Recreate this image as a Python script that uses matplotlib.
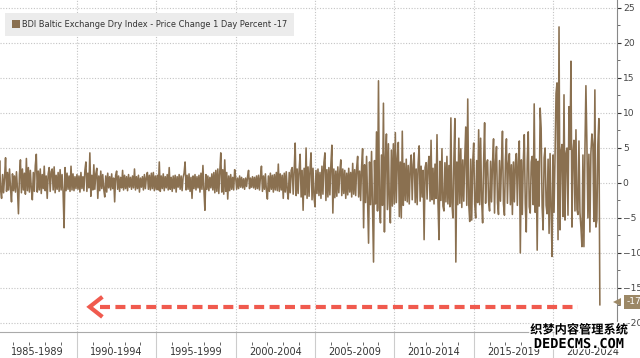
import numpy as np
import matplotlib.pyplot as plt
from matplotlib.patches import Patch
import matplotlib.patheffects as pe

# Daily % change of the BDI in each 5-year block (roughly one value per pixel column)
chg_1985_89 = [3.6, -1.5, 3.2, -1.0, -2.2, 1.2, -1.4, 0.8, 3.6, -1.2, 1.5, -1.0, 2.0, -0.8, -2.7, 1.3,
               -1.1, 1.0, -1.3, 1.6, -0.9, -4.4, 1.2, 3.3, -1.4, 2.0, -1.0, 1.4, -1.6, 3.5, -1.1, 2.2,
               -1.3, 1.8, -0.9, -2.4, 1.5, -1.2, 2.5, 4.1, -1.3, 1.7, -1.0, 2.0, -1.5, 1.2, -0.8, 2.4,
               -1.1, 1.0, -2.2, 1.3, 2.2, -1.2, 1.6, 2.0, -1.0, 2.3, -1.4, 1.1, -0.9, 1.5, -1.2, 1.9,
               -1.0, 1.2, -1.3, -6.4, 2.2, -1.1, 1.4, -0.9, 1.0, -1.2, 2.4, -1.0, 1.3, -1.1, 0.9, -0.8]
chg_1990_94 = [1.2, -0.9, 1.0, -1.3, 1.5, -0.8, 0.9, -1.1, 1.8, 3.0, -1.2, 1.4, -0.7, 4.3, -1.9, 1.1,
               -1.0, 2.6, -0.9, 1.3, 2.1, -2.2, 1.0, -1.1, 1.7, -0.8, 1.2, -0.9, -2.0, 1.0, -1.3, 1.4,
               -0.7, 0.9, -1.0, 1.3, -0.8, 0.7, -2.7, 1.1, 1.7, -0.9, 1.0, -1.2, 0.8, -0.7, 1.8, -1.0,
               1.1, -0.8, 0.9, -1.1, 1.2, -0.6, 0.8, -0.9, 1.0, -0.7, 2.0, -1.0, 0.9, -0.8, 1.1, -1.3,
               0.7, -0.6, 0.9, -1.0, 1.2, -0.8, 0.8, 1.5, -0.9, 1.1, -1.0, 1.4, -0.8, 1.5, -1.1, 1.0]
chg_1995_99 = [-0.9, 1.1, -1.0, 3.0, -1.2, 1.0, -0.8, 1.3, -1.1, 0.9, -0.7, 1.2, -1.0, 2.2, -0.9, 0.8,
               -1.2, 1.0, -0.8, 1.1, -1.3, 0.9, -0.6, 1.2, -0.9, 1.0, -1.1, 0.8, 1.4, 3.0, -1.0, 1.1,
               -0.9, 1.3, -1.2, 0.8, -2.2, 1.0, -0.8, 1.2, -1.0, 0.9, -0.7, 1.1, -1.3, 1.4, -0.9, 2.5,
               -1.0, -3.9, 1.2, -0.9, 1.0, -1.1, 0.8, -0.7, 1.3, -1.0, 1.5, -1.4, 1.8, -1.2, 2.0, -1.5,
               1.6, 4.3, -1.3, 1.9, -1.6, 3.3, -1.2, 1.5, -2.3, 1.0, -1.1, 1.2, -0.9, 0.8, -1.0, 1.9]
chg_2000_04 = [0.8, -0.9, 0.7, -0.8, 1.0, -0.6, 0.8, -0.7, 0.6, -0.9, 0.7, -0.5, 0.9, 1.8, -0.8, 0.7,
               -0.6, 0.9, -0.7, 0.8, -0.9, 1.0, -0.8, 1.1, -1.0, 0.9, 2.4, -1.2, 1.0, -0.9, 1.3, -1.1,
               -2.3, 1.0, -1.2, 1.4, -0.9, 1.1, -1.3, 1.2, -1.0, 1.5, -1.1, 2.7, -1.2, 1.3, -1.0, 1.1,
               -2.2, 1.4, -1.3, 1.6, -1.1, -2.3, 1.5, -1.4, 1.8, 2.2, -1.6, 1.7, 5.7, -1.8, 2.0, -1.5,
               1.9, 4.1, -2.0, 1.8, -3.9, 2.1, -1.7, 5.0, -2.2, 2.3, -1.9, 2.0, 4.3, -2.4, 2.1, -2.0]
chg_2005_09 = [-3.4, 1.8, -1.5, 2.0, -1.8, 1.5, -2.2, 2.4, -1.6, 2.9, 4.3, -2.5, 1.9, -2.0, 2.2, -1.7,
               2.6, 5.4, -4.3, 2.0, -2.1, 1.7, -1.9, 2.3, -1.4, 1.6, 3.3, -1.8, 2.0, -1.5, 1.8, -2.2,
               1.4, -1.7, 2.1, -1.3, 1.5, -2.0, 2.8, -1.6, 1.9, -1.8, 2.2, 3.8, -2.0, 1.7, -2.5, 2.4,
               4.9, -6.4, 2.6, -2.8, 3.8, -2.3, -8.6, 3.0, -3.1, 4.5, -3.4, -11.3, 3.2, -3.0, 7.3, -4.0,
               14.6, -3.5, -5.7, 4.0, -3.2, 11.4, -7.0, 3.5, 7.0, -3.8, 5.6, -3.0, -5.7, 4.7, -3.3, 5.6]
chg_2010_14 = [-3.0, 7.2, -2.8, 3.5, 5.8, -4.8, 3.0, -5.0, 7.4, -3.2, 2.8, -2.5, 3.4, -2.7, 2.5, -3.0,
               2.2, 4.0, -2.4, 2.6, 4.3, -2.8, 2.0, -3.1, 2.7, 5.3, -2.6, 2.4, -2.0, 1.8, -8.1, 2.2,
               2.9, -2.3, 2.5, 3.8, -2.6, 6.1, -2.4, 2.1, -3.0, 2.7, -2.2, 6.9, -2.8, -8.1, 3.1, -2.5,
               4.9, -3.3, -4.0, 2.9, -2.7, 3.8, -3.0, 2.5, -3.4, 9.3, -2.8, -5.0, 3.2, 9.2, -11.3, 3.0,
               -3.1, 6.4, -2.9, 4.9, -3.5, 3.3, -2.6, 3.6, 8.0, -3.2, 12.0, -3.0, -5.5, 3.4, -5.3, 3.0]
chg_2015_19 = [5.7, -3.0, -5.0, 3.2, -2.8, 7.6, -3.1, 6.4, -2.5, -5.7, 3.0, 8.6, -2.9, 2.8, 3.3, -2.6,
               -4.0, 3.1, -2.7, 2.9, 6.3, -4.3, 3.0, 5.2, -2.8, -4.5, 3.2, -2.6, 2.7, 7.4, -3.0, -4.6,
               3.3, 6.3, -2.9, 2.8, 4.2, -3.1, 2.6, -4.5, 3.0, -2.7, 2.9, 4.2, -3.2, 3.1, 6.0, -10.0,
               3.3, -4.5, 2.9, 6.9, -3.0, -7.0, 3.2, 7.3, -3.4, -4.3, 3.0, 3.8, -3.1, 11.3, -4.2, 3.4,
               -9.6, 3.1, -3.3, 10.7, 7.8, -3.5, -6.7, 3.6, 5.0, -3.2, -4.4, 3.4, -7.2, 4.2, -3.6, -10.5]
chg_2020_24 = [4.0, -4.2, 3.8, 12.8, 14.3, -8.1, 22.3, -6.7, 4.5, 5.5, -4.8, 12.6, -5.3, 4.2, 5.0, -4.6,
               10.9, 4.8, 17.4, -6.3, 4.4, 6.1, -4.0, 7.6, -3.8, -4.5, 6.0, -4.2, -6.3, -9.1, 4.0, -9.1,
               4.5, 13.9, 5.5, -5.0, 4.1, -7.0, 4.3, 7.0, 5.5, -5.5, 13.3, -6.3, -5.3, 5.5, 9.2, -17.4]

blocks = [chg_1985_89, chg_1990_94, chg_1995_99, chg_2000_04,
          chg_2005_09, chg_2010_14, chg_2015_19, chg_2020_24]
block_start = [1985, 1990, 1995, 2000, 2005, 2010, 2015, 2020]
block_labels = ["1985-1989", "1990-1994", "1995-1999", "2000-2004",
                "2005-2009", "2010-2014", "2015-2019", "2020-2024"]
last_date = 2022.95
last_value = -17

# time axis for each block
xs = []
for start, vals in zip(block_start, blocks):
    if start == block_start[-1]:
        xs.append(np.linspace(start, last_date, len(vals)))
    else:
        xs.append(np.linspace(start, start + 5, len(vals), endpoint=False))
x = np.concatenate(xs)
y = np.concatenate([np.array(b, dtype=float) for b in blocks])

line_col = "#8a7050"
grid_col = "#c4c4c4"
narrow = ["Liberation Sans Narrow", "DejaVu Sans"]

fig = plt.figure(figsize=(6.4, 3.58), dpi=100)
ax = fig.add_axes([0.0, 1 - 332 / 358, 617 / 640, 332 / 358])

ax.plot(x, y, color=line_col, lw=1.15, zorder=3)

ax.set_xlim(1985.15, 2024.03)
ax.set_ylim(-21.29, 26.14)

# grid
for yy in range(-20, 30, 5):
    ax.axhline(yy, color=grid_col, lw=0.8, ls=(0, (1, 1.5)), zorder=1)
for xx in block_start[1:]:
    ax.axvline(xx, color=grid_col, lw=0.8, ls=(0, (1, 1.5)), zorder=1)

# right y axis
ax.yaxis.tick_right()
ax.set_yticks(range(-20, 30, 5))
ax.set_yticks(np.arange(-20, 26, 2.5), minor=True)
ax.tick_params(axis="y", which="major", length=3, width=0.8, color="#333333",
               pad=1.2, labelsize=6.6, labelcolor="#444444")
ax.tick_params(axis="y", which="minor", length=2, width=0.6, color="#555555")
for lab in ax.get_yticklabels():
    lab.set_family(narrow)
for s in ["left", "top"]:
    ax.spines[s].set_visible(False)
ax.spines["right"].set_color("#888888")
ax.spines["right"].set_linewidth(0.8)
ax.spines["bottom"].set_color("#aaaaaa")
ax.spines["bottom"].set_linewidth(0.8)

# x band: separators at block boundaries
ax.set_xticks(block_start[1:])
ax.set_xticklabels([])
ax.tick_params(axis="x", which="major", length=19, width=0.8, color="#cccccc")

# yearly ticks and block labels on a second axis a little lower
sec = ax.secondary_xaxis(-0.03)
sec.spines["bottom"].set_visible(False)
sec.set_xticks([s + 2.5 for s in block_start])
sec.set_xticklabels(block_labels)
sec.set_xticks(np.arange(1986, 2024, 1), minor=True)
sec.tick_params(axis="x", which="major", length=0, pad=3.5, labelsize=7, labelcolor="#333333")
sec.tick_params(axis="x", which="minor", length=2.5, width=0.7, color="#666666")
for lab in sec.get_xticklabels():
    lab.set_family(narrow)

# legend
leg = ax.legend(handles=[Patch(facecolor=line_col, edgecolor="none")],
                labels=["BDI Baltic Exchange Dry Index - Price Change 1 Day Percent -17"],
                loc="upper left", bbox_to_anchor=(0.008, 0.96), borderaxespad=0,
                fontsize=5.95, frameon=True, fancybox=False, facecolor="#ececec",
                edgecolor="none", framealpha=1, handlelength=1.0, handleheight=1.0,
                handletextpad=0.3, borderpad=0.8)
for t in leg.get_texts():
    t.set_color("#333333")

# red dashed arrow along the -17 level
arrow_y = -17.7
ax.plot([1991.45, 2021.55], [arrow_y, arrow_y], color="#f05a4e", lw=3,
        ls=(0, (2.4, 1.3)), solid_capstyle="butt", zorder=4)
ax.plot([1991.5, 1990.8, 1991.5], [arrow_y + 1.25, arrow_y, arrow_y - 1.25],
        color="#f05a4e", lw=3, solid_joinstyle="miter", zorder=4)

# last value tag on the right axis
ax.annotate(str(last_value), xy=(1.0, last_value), xycoords=("axes fraction", "data"),
            xytext=(7, 0), textcoords="offset points", ha="left", va="center",
            fontsize=6.5, color="white", family=narrow, annotation_clip=False,
            bbox=dict(boxstyle="square,pad=0.25", fc="#9c8866", ec="none"))
ax.plot([1.0], [last_value], marker="<", ms=6, color="#9c8866",
        transform=ax.get_yaxis_transform(), clip_on=False, zorder=5,
        markeredgewidth=0)

# site watermark over the bottom right corner
stroke = [pe.withStroke(linewidth=2, foreground="white")]
fig.text(0.905, 1 - 330 / 358, "织梦内容管理系统", ha="center", va="center", fontsize=8.8,
         fontweight="bold", family=["Noto Sans CJK SC", "DejaVu Sans"], color="black",
         path_effects=stroke, zorder=10)
fig.text(0.905, 1 - 344 / 358, "DEDECMS.COM", ha="center", va="center", fontsize=9.8,
         fontweight="bold", family="DejaVu Sans Mono", color="black",
         path_effects=stroke, zorder=10)

fig.savefig("out.png", dpi=100)
